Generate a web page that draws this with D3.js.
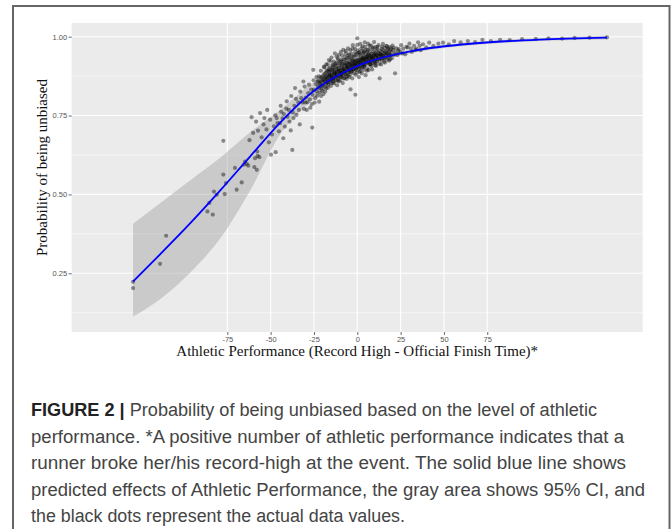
<!DOCTYPE html>
<html>
<head>
<meta charset="utf-8">
<script src="https://cdn.jsdelivr.net/npm/d3@7"></script>
<style>
  body { margin: 0; background: #fff; }
  svg { display: block; }
</style>
</head>
<body>
<script>
/* values */
var xTicks = [-75, -50, -25, 0, 25, 50, 75]
var yTicks = [0.25, 0.50, 0.75, 1.00]
var yMinor = [0.125, 0.375, 0.625, 0.875]

/* fitted curve and its 95% CI */
var fitX   = [-129.4, -113.8, -96.5, -79.2, -61.9, -44.6, -24.4, 0, 32.1, 70.8, 105.4, 144.1]
var fitY   = [0.224, 0.310, 0.408, 0.512, 0.620, 0.727, 0.831, 0.907, 0.955, 0.980, 0.991, 0.997]
var ciHigh = [0.407, 0.472, 0.544, 0.616, 0.697, 0.768, 0.858, 0.918, 0.961, 0.985, 0.996, 1.003]
var ciLow  = [0.113, 0.168, 0.252, 0.360, 0.512, 0.689, 0.805, 0.896, 0.948, 0.975, 0.986, 0.991]

/* observed data values [athletic performance, probability] */
var dots = [
  [-129.4,0.223],[-129.4,0.203],[-113.8,0.280],[-110.3,0.369],[-86.5,0.446],[-83.4,0.436],
  [-85.4,0.473],[-82.7,0.509],[-81.1,0.499],[-76.5,0.501],[-77.3,0.563],[-75.8,0.536],
  [-69.6,0.515],[-66.7,0.538],[-70.6,0.584],[-65.4,0.594],[-63.8,0.597],[-62.9,0.591],
  [-64.8,0.604],[-59.0,0.615],[-58.0,0.578],[-59.4,0.587],[-56.5,0.618],[-57.5,0.622],
  [-57.7,0.636],[-49.8,0.626],[-47.1,0.634],[-37.5,0.641],[-77.3,0.670],
  [-62.2,0.672],[-60.1,0.695],[-57.3,0.702],[-55.2,0.681],[-54.1,0.722],[-52.4,0.706],
  [-51.0,0.665],[-50.3,0.737],[-49.2,0.690],[-48.1,0.716],[-47.3,0.751],[-46.0,0.726],
  [-45.2,0.700],[-44.6,0.726],[-43.9,0.762],[-43.1,0.741],[-42.7,0.678],[-41.8,0.715],
  [-41.0,0.772],[-40.2,0.746],[-39.1,0.731],[-38.4,0.703],[-37.2,0.760],[-36.3,0.781],
  [-35.9,0.837],[-35.1,0.752],[-34.0,0.792],[-33.2,0.722],[-32.3,0.805],[-31.1,0.858],
  [-30.8,0.771],[-30.1,0.792],[-29.2,0.768],[-28.3,0.821],[-27.4,0.801],[-26.0,0.712],
  [-26.2,0.786],[-25.4,0.895],[-25.0,0.832],[-24.3,0.805],[-24.0,0.850],[-23.6,0.872],
  [-23.1,0.813],[-22.8,0.842],[-22.5,0.862],[-22.0,0.794],[-21.7,0.823],[-21.5,0.853],
  [-21.2,0.871],[-21.0,0.892],[-20.6,0.835],[-20.3,0.862],[-20.0,0.845],[-19.7,0.877],
  [-19.5,0.818],[-19.2,0.905],[-18.9,0.857],[-18.6,0.871],[-18.3,0.885],[-18.0,0.836],
  [-17.7,0.893],[-17.4,0.866],[-17.1,0.912],[-16.8,0.848],[-16.5,0.878],[-16.2,0.889],
  [-16.0,0.902],[-15.7,0.862],[-15.4,0.923],[-15.1,0.874],[-14.8,0.885],[-14.5,0.896],
  [-14.2,0.853],[-14.0,0.908],[-13.7,0.871],[-13.4,0.882],[-13.1,0.893],[-12.9,0.947],
  [-12.6,0.904],[-12.3,0.862],[-12.0,0.916],[-11.8,0.877],[-11.5,0.889],[-11.2,0.931],
  [-11.0,0.898],[-10.7,0.858],[-10.4,0.909],[-10.1,0.883],[-9.9,0.921],[-9.6,0.894],
  [-9.3,0.872],[-9.0,0.906],[-8.8,0.941],[-8.5,0.887],[-8.2,0.915],[-8.0,0.898],
  [-7.7,0.927],[-7.4,0.868],[-7.1,0.909],[-6.9,0.889],[-6.6,0.955],[-6.3,0.918],
  [-6.0,0.901],[-5.8,0.932],[-5.5,0.876],[-5.2,0.912],[-5.0,0.893],[-4.7,0.944],
  [-4.4,0.921],[-4.1,0.903],[-3.9,0.833],[-3.6,0.931],[-3.3,0.889],[-3.0,0.914],
  [-2.8,0.962],[-2.5,0.924],[-2.2,0.897],[-1.9,0.938],[-1.7,0.908],[-1.4,0.927],
  [-1.1,0.816],[-0.8,0.916],[-0.5,0.945],[-0.3,0.902],[0.0,0.995],[0.0,0.974],
  [0.2,0.925],[0.5,0.934],[0.8,0.911],[1.1,0.951],[1.3,0.889],[1.6,0.928],
  [1.9,0.940],[2.2,0.916],[2.4,0.963],[2.7,0.932],[3.0,0.902],[3.3,0.944],
  [3.5,0.923],[3.8,0.953],[4.1,0.911],[4.4,0.935],[4.6,0.968],[4.9,0.928],
  [5.2,0.946],[5.5,0.892],[5.7,0.937],[6.0,0.958],[6.3,0.921],[6.6,0.944],
  [6.8,0.932],[7.1,0.972],[7.4,0.951],[7.7,0.912],[7.9,0.939],[8.2,0.946],
  [8.5,0.927],[8.8,0.962],[9.0,0.935],[9.3,0.953],[9.6,0.941],[9.9,0.918],
  [10.1,0.948],[10.4,0.967],[10.7,0.932],[11.0,0.955],[11.2,0.942],[11.5,0.961],
  [11.8,0.928],[12.1,0.949],[12.3,0.973],[12.6,0.938],[12.9,0.868],[13.2,0.956],
  [13.4,0.944],[13.7,0.931],[14.0,0.962],[14.3,0.951],[14.5,0.941],[14.8,0.977],
  [15.1,0.956],[15.4,0.932],[15.6,0.947],[15.9,0.964],[16.2,0.952],[16.5,0.939],
  [16.7,0.971],[17.0,0.948],[17.3,0.958],[17.6,0.935],[17.8,0.962],[18.1,0.951],
  [18.4,0.944],[18.7,0.967],[18.9,0.956],[19.2,0.941],[19.5,0.962],[19.8,0.951],
  [20.0,0.932],[20.3,0.972],[20.6,0.958],[21.8,0.884],[22.1,0.951],[22.6,0.963],
  [23.2,0.942],[24.0,0.961],[24.8,0.952],[25.3,0.973],[26.5,0.962],[27.7,0.944],
  [29.0,0.966],[30.1,0.978],[31.5,0.952],[32.8,0.971],[34.2,0.962],[35.1,0.982],
  [36.6,0.957],[37.9,0.976],[39.8,0.966],[41.5,0.981],[43.9,0.971],[46.8,0.978],
  [49.5,0.981],[52.8,0.976],[55.9,0.986],[59.6,0.982],[63.8,0.986],[68.0,0.983],
  [72.2,0.990],[77.1,0.986],[82.4,0.990],[88.0,0.989],[95.1,0.992],[103.0,0.993],
  [110.3,0.995],[118.2,0.994],[125.4,0.996],[134.0,0.997],[144.1,0.998],
  [-19.0,0.903],[-17.9,0.912],[-16.4,0.926],[-14.9,0.934],[-13.5,0.921],[-11.9,0.937],
  [-10.6,0.943],[-9.4,0.952],[-8.1,0.958],[-6.7,0.947],[-5.3,0.963],[-4.0,0.957],
  [-2.6,0.973],[-1.3,0.962],[0.4,0.957],[1.7,0.977],[3.1,0.969],[4.3,0.982],
  [6.2,0.978],[8.0,0.972],[9.7,0.983],[-20.9,0.812],[-18.5,0.826],[-16.9,0.838],
  [-15.2,0.844],[-13.3,0.852],[-11.6,0.846],[-9.8,0.861],[-8.4,0.853],[-6.2,0.866],
  [-4.6,0.872],[-2.9,0.868],[-0.9,0.879],[0.9,0.872],[2.6,0.884],[4.8,0.878],
  [6.5,0.894],[8.6,0.896],[10.9,0.908],[13.8,0.912],[16.0,0.918],[18.3,0.924],
  [-22.4,0.836],[-21.9,0.851],[-21.3,0.842],[-20.8,0.858],[-20.4,0.871],[-19.9,0.849],
  [-19.4,0.864],[-18.8,0.842],[-18.2,0.872],[-17.6,0.855],[-17.2,0.881],[-16.7,0.862],
  [-16.1,0.874],[-15.6,0.891],[-15.0,0.866],[-14.6,0.879],[-14.1,0.895],[-13.6,0.868],
  [-13.0,0.884],[-12.5,0.874],[-12.1,0.897],[-11.7,0.887],[-11.1,0.869],[-10.6,0.901],
  [-10.2,0.879],[-9.7,0.892],[-9.1,0.884],[-8.7,0.912],[-8.3,0.876],[-7.8,0.897],
  [-7.3,0.889],[-6.8,0.915],[-6.4,0.881],[-5.9,0.906],[-5.4,0.897],[-4.9,0.918],
  [-4.5,0.889],[-4.0,0.911],[-3.5,0.902],[-3.1,0.925],[-2.7,0.896],[-2.3,0.914],
  [-1.8,0.905],[-1.3,0.921],[-0.9,0.897],[-0.4,0.913],[0.1,0.904],[0.6,0.922],
  [1.0,0.899],[1.5,0.917],[2.0,0.908],[2.5,0.927],[2.9,0.913],[3.4,0.934],
  [3.9,0.905],[4.3,0.922],[4.8,0.914],[5.3,0.931],[5.8,0.919],[6.2,0.941],
  [6.7,0.912],[7.2,0.929],[7.8,0.921],[8.3,0.937],[8.9,0.916],[9.4,0.931],
  [10.0,0.925],[10.6,0.942],[11.3,0.921],[11.9,0.936],[12.6,0.927],[13.3,0.944],
  [14.1,0.925],[14.9,0.939],[15.7,0.931],[16.6,0.946],[17.5,0.928],[18.6,0.941],
  [-23.5,0.826],[-22.9,0.858],[-22.1,0.874],[-20.2,0.829],[-19.0,0.882],[-17.9,0.851],
  [-16.3,0.897],[-15.3,0.856],[-14.4,0.911],[-13.8,0.859],[-12.7,0.915],[-11.4,0.861],
  [-10.9,0.925],[-9.9,0.871],[-9.0,0.928],[-7.9,0.868],[-7.0,0.936],[-6.1,0.873],
  [-5.1,0.941],[-4.2,0.879],[-3.3,0.946],[-2.1,0.884],[-1.2,0.951],[-0.2,0.886],
  [0.7,0.949],[1.8,0.891],[2.8,0.955],[3.7,0.895],[4.7,0.958],[5.9,0.899],
  [6.9,0.961],[8.1,0.906],[9.2,0.965],[10.3,0.909],[11.6,0.968],[12.8,0.914],
  [14.5,0.968],[15.5,0.921],[17.2,0.969],[19.0,0.928],[20.9,0.965],[21.5,0.943],
  [23.7,0.955],[26.1,0.947],[28.4,0.968],[31.0,0.963],[33.5,0.958],[36.0,0.971],
  [-46.5,0.742],[-44.2,0.781],[-42.4,0.755],[-40.7,0.795],[-39.5,0.768],[-38.1,0.812],
  [-36.8,0.742],[-35.4,0.803],[-33.7,0.768],[-32.9,0.826],[-31.6,0.791],[-30.4,0.842],
  [-29.7,0.807],[-28.8,0.792],[-27.9,0.848],[-27.1,0.775],[-26.6,0.832],[-25.8,0.816],
  [-25.2,0.862],[-24.6,0.791],[-61.0,0.745],[-58.4,0.731],[-56.1,0.758],[-53.6,0.742],
  [-52.0,0.768],
  [-18.7,0.861],[-17.3,0.869],[-15.9,0.878],[-14.7,0.871],[-13.2,0.887],[-12.2,0.881],
  [-10.8,0.892],[-9.5,0.886],[-8.6,0.901],[-7.5,0.894],[-6.5,0.908],[-5.6,0.902],
  [-4.3,0.913],[-3.4,0.907],[-2.4,0.919],[-1.5,0.911],[-0.6,0.924],[0.3,0.915],
  [1.2,0.926],[2.1,0.921],[3.2,0.931],[4.0,0.926],[5.0,0.936],[6.1,0.929],
  [7.0,0.939],[8.4,0.933],[9.8,0.944],[11.1,0.939],[12.4,0.948],[13.9,0.941],
  [-17.0,0.891],[-14.3,0.902],[-12.4,0.908],[-10.3,0.915],[-8.9,0.921],[-6.6,0.926],
  [-4.8,0.933],[-2.9,0.937],[-1.0,0.941],[1.4,0.945],[3.6,0.949],[5.6,0.952],
  [-16.6,0.855],[-13.9,0.866],[-11.9,0.873],[-9.2,0.879],[-7.1,0.882],[-5.0,0.886],
  [-3.0,0.891],[-0.7,0.894],[1.9,0.902],[4.2,0.906],[7.5,0.913],[10.5,0.918]
]

var captionLines = [
  "Probability of being unbiased based on the level of athletic",
  "performance. *A positive number of athletic performance indicates that a",
  "runner broke her/his record-high at the event. The solid blue line shows",
  "predicted effects of Athletic Performance, the gray area shows 95% CI, and",
  "the black dots represent the actual data values."
]
var captionEnds = [597, 624, 626, 645, 405]

var width = 672, height = 529
var panel = { left: 71.7, right: 642.7, top: 23, bottom: 332 }

var svg = d3.select("body").append("svg")
    .attr("width", width)
    .attr("height", height)

/* outer frame of the figure */
svg.append("rect")
    .attr("x", 13).attr("y", 6)
    .attr("width", 656.5).attr("height", 560)
    .attr("fill", "none")
    .attr("stroke", "#666")
    .attr("stroke-width", 2)

var x = d3.scaleLinear().domain([-164.8, 164.7]).range([panel.left, panel.right])
var y = d3.scaleLinear().domain([0.0639, 1.0434]).range([panel.bottom, panel.top])

/* panel background and grid */
svg.append("rect")
    .attr("x", panel.left).attr("y", panel.top)
    .attr("width", panel.right - panel.left)
    .attr("height", panel.bottom - panel.top)
    .attr("fill", "#ebebeb")

svg.append("g").selectAll("line").data(yMinor).enter().append("line")
    .attr("x1", panel.left).attr("x2", panel.right)
    .attr("y1", function(d) { return y(d) }).attr("y2", function(d) { return y(d) })
    .attr("stroke", "#fff").attr("stroke-width", 0.6)

svg.append("g").selectAll("line").data(yTicks).enter().append("line")
    .attr("x1", panel.left).attr("x2", panel.right)
    .attr("y1", function(d) { return y(d) }).attr("y2", function(d) { return y(d) })
    .attr("stroke", "#fff").attr("stroke-width", 1.1)

svg.append("g").selectAll("line").data(xTicks).enter().append("line")
    .attr("y1", panel.top).attr("y2", panel.bottom)
    .attr("x1", function(d) { return x(d) }).attr("x2", function(d) { return x(d) })
    .attr("stroke", "#fff").attr("stroke-width", 1.1)

/* confidence band */
var band = fitX.map(function(d, i) { return { x: d, lo: ciLow[i], hi: ciHigh[i] } })
svg.append("path")
    .datum(band)
    .attr("d", d3.area()
        .x(function(d) { return x(d.x) })
        .y0(function(d) { return y(d.lo) })
        .y1(function(d) { return y(d.hi) })
        .curve(d3.curveMonotoneX))
    .attr("fill", "#999")
    .attr("fill-opacity", 0.4)

/* the dots */
svg.append("g").selectAll("circle").data(dots).enter().append("circle")
    .attr("cx", function(d) { return x(d[0]) })
    .attr("cy", function(d) { return y(d[1]) })
    .attr("r", 2.1)
    .attr("fill", "#000")
    .attr("fill-opacity", 0.42)

/* fitted line */
svg.append("path")
    .datum(fitX.map(function(d, i) { return [d, fitY[i]] }))
    .attr("d", d3.line()
        .x(function(d) { return x(d[0]) })
        .y(function(d) { return y(d[1]) })
        .curve(d3.curveMonotoneX))
    .attr("fill", "none")
    .attr("stroke", "#0000ff")
    .attr("stroke-width", 1.8)

/* axes */
var xAxis = d3.axisBottom(x).tickValues(xTicks).tickSize(3).tickPadding(1.5)
    .tickFormat(function(d) { return String(d) })
var yAxis = d3.axisLeft(y).tickValues(yTicks).tickSize(3).tickPadding(1.5)
    .tickFormat(d3.format(".2f"))

var gx = svg.append("g").attr("transform", "translate(0," + panel.bottom + ")").call(xAxis)
var gy = svg.append("g").attr("transform", "translate(" + panel.left + ",0)").call(yAxis)
;[gx, gy].forEach(function(g) {
    g.select(".domain").remove()
    g.selectAll(".tick line").attr("stroke", "#444").attr("stroke-width", 0.8)
    g.selectAll(".tick text")
        .attr("fill", "#555")
        .attr("font-family", "Liberation Sans, Arial, sans-serif")
        .attr("font-size", "7.5px")
})

/* axis titles */
svg.append("text")
    .attr("x", (panel.left + panel.right) / 2)
    .attr("y", 356)
    .attr("text-anchor", "middle")
    .attr("font-family", "Liberation Serif, Times New Roman, serif")
    .attr("font-size", "15px")
    .attr("fill", "#111")
    .text("Athletic Performance (Record High - Official Finish Time)*")

svg.append("text")
    .attr("transform", "translate(47,167.5) rotate(-90)")
    .attr("text-anchor", "middle")
    .attr("font-family", "Liberation Serif, Times New Roman, serif")
    .attr("font-size", "15px")
    .attr("fill", "#111")
    .text("Probability of being unbiased")

/* caption */
var cap = svg.append("g")
    .attr("font-family", "Liberation Sans, Helvetica, Arial, sans-serif")
    .attr("font-size", "18px")
    .attr("fill", "#444")

captionLines.forEach(function(line, i) {
    var t = cap.append("text")
        .attr("x", 31)
        .attr("y", 416 + i * 26.5)
        .attr("textLength", captionEnds[i] - 31)
        .attr("lengthAdjust", "spacingAndGlyphs")
    if (i === 0) {
        t.append("tspan").attr("font-weight", "bold").attr("fill", "#222").text("FIGURE 2 | ")
    }
    t.append("tspan").text(line)
})
</script>
</body>
</html>
